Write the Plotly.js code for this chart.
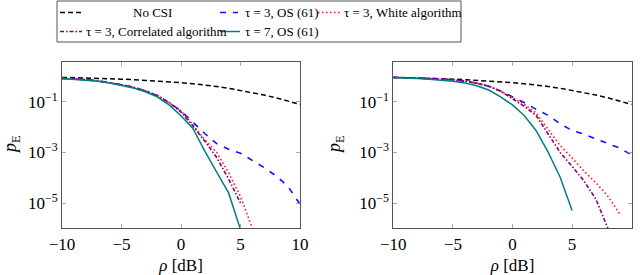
<!DOCTYPE html>
<html>
<head>
<meta charset="utf-8">
<script src="https://cdn.plot.ly/plotly-3.0.1.min.js"></script>
<style>html,body{margin:0;padding:0;background:#fff;}#chart{width:640px;height:275px;}</style>
</head>
<body>
<div id="chart"></div>
<script>
// ---- data ----
var snrDb = [-10,-9,-8,-7,-6,-5,-4,-3,-2,-1,0,1,2,3,4,5,6,7,8,9,10];
var seriesNames = ['No CSI', '\u03c4 = 3, OS (61)', '\u03c4 = 3, White algorithm', '\u03c4 = 3, Correlated algorithm', '\u03c4 = 7, OS (61)'];
var xTitle = '<i>\u03c1</i> [dB]';
var yTitle = '<i>p</i><sub>E</sub>';

var noCsi = [0.933,0.912,0.891,0.861,0.832,0.794,0.759,0.716,0.676,0.631,0.575,0.525,0.468,0.407,0.347,0.288,0.234,0.186,0.145,0.110,0.0794];

// left panel
var leftOs3      = [0.851,0.813,0.759,0.676,0.589,0.479,0.380,0.275,0.178,0.0933,0.0447,0.0158,5.62e-3,2.24e-3,1.35e-3,9.33e-4,4.79e-4,2.51e-4,1.17e-4,4.47e-5,8.91e-6];
var leftWhite3   = [0.851,0.813,0.759,0.676,0.589,0.479,0.380,0.275,0.178,0.0933,0.0447,0.0126,3.16e-3,1.0e-3,1.58e-4,1.78e-5,1.0e-6];
var leftCorr3    = [0.851,0.813,0.759,0.676,0.589,0.479,0.380,0.275,0.178,0.0933,0.0398,0.0112,2.82e-3,6.31e-4,8.91e-5,1.0e-5];
var leftOs7      = [0.851,0.794,0.741,0.661,0.562,0.447,0.355,0.251,0.158,0.0759,0.0282,8.91e-3,1.12e-3,1.66e-4,2.51e-5,8.91e-7];

// right panel
var rightOs3     = [0.933,0.912,0.891,0.851,0.813,0.741,0.661,0.550,0.417,0.269,0.158,0.0933,0.0501,0.0295,0.0135,7.41e-3,5.25e-3,3.39e-3,2.24e-3,1.48e-3,7.94e-4];
var rightWhite3  = [0.933,0.912,0.891,0.851,0.813,0.741,0.661,0.550,0.417,0.269,0.141,0.0794,0.0355,7.94e-3,1.86e-3,6.03e-4,1.82e-4,6.31e-5,1.86e-5,3.72e-6];
var rightCorr3   = [0.933,0.912,0.891,0.851,0.813,0.741,0.661,0.550,0.417,0.269,0.135,0.0661,0.0282,5.01e-3,1.0e-3,2.82e-4,7.41e-5,1.41e-5,1.0e-6];
var rightOs7     = [0.912,0.891,0.851,0.794,0.741,0.661,0.562,0.437,0.295,0.158,0.0759,0.0282,7.08e-3,1.0e-3,1.05e-4,5.01e-6];

var xTickVals = [-10,-5,0,5,10];
var xTickText = ['\u221210','\u22125','0','5','10'];
var yTickVals = [1e-5,1e-3,1e-1];
var yTickText = ['10<sup>\u22125</sup>','10<sup>\u22123</sup>','10<sup>\u22121</sup>'];

// ---- styles ----
var FONT = 'Liberation Serif, DejaVu Serif, serif';
var styles = [
  {color:'#000000', dash:'5px,3px', width:1.5},
  {color:'#1010ff', dash:'6px,7px', width:1.6},
  {color:'#ff2020', dash:'1.6px,2.4px', width:1.6},
  {color:'#800080', dash:'4px,2px,1.5px,2px', width:1.6},
  {color:'#008080', dash:'solid', width:1.5}
];

function tr(y, k, xa, ya) {
  return {x: snrDb.slice(0, y.length), y: y, type:'scatter', mode:'lines',
          name: seriesNames[k], xaxis: xa, yaxis: ya, showlegend:false,
          line:{color:styles[k].color, dash:styles[k].dash, width:styles[k].width}};
}
var leftSets  = [noCsi, leftOs3, leftWhite3, leftCorr3, leftOs7];
var rightSets = [noCsi, rightOs3, rightWhite3, rightCorr3, rightOs7];
var data = [];
leftSets.forEach(function(s,k){ data.push(tr(s,k,'x','y')); });
rightSets.forEach(function(s,k){ data.push(tr(s,k,'x2','y2')); });

var W = 640, H = 275;
var yDom = [(H-228.3)/H, (H-61.7)/H];
function xAx(dom, anchor) {
  return {domain:dom, anchor:anchor, range:[-10,10], tickmode:'array', tickvals:xTickVals, ticktext:xTickText,
    ticks:'inside', ticklen:4, tickcolor:'#aaaaaa', showline:true, linecolor:'#555555', linewidth:1,
    mirror:'ticks', showgrid:false, zeroline:false,
    tickfont:{family:FONT, size:17, color:'#000'},
    title:{text:xTitle, font:{family:FONT, size:17, color:'#000'}}};
}
function yAx(anchor) {
  return {domain:yDom, anchor:anchor, type:'log', range:[-6,0.59], tickmode:'array', tickvals:yTickVals, ticktext:yTickText,
    ticks:'inside', ticklen:4, tickcolor:'#aaaaaa', showline:true, linecolor:'#555555', linewidth:1,
    mirror:'ticks', showgrid:false, zeroline:false,
    tickfont:{family:FONT, size:17, color:'#000'}};
}

// ---- legend (drawn as a box with sample lines and labels) ----
var shapes = [{type:'rect', xref:'paper', yref:'paper', x0:57/W, x1:461/W, y0:1-42/H, y1:1-1/H,
               line:{color:'#555555', width:1}, fillcolor:'rgba(255,255,255,0)'}];
var annotations = [];
var legItems = [
  {k:0, sx:[60,82],  y:12.5, tx:152, anchor:'center'},
  {k:1, sx:[220,238], y:12.5, tx:243, anchor:'left'},
  {k:2, sx:[318,340], y:12.5, tx:342, anchor:'left'},
  {k:3, sx:[60,82],  y:31.5, tx:84,  anchor:'left'},
  {k:4, sx:[220,240], y:31.5, tx:243, anchor:'left'}
];
legItems.forEach(function(it){
  var st = styles[it.k];
  shapes.push({type:'line', xref:'paper', yref:'paper', x0:it.sx[0]/W, x1:it.sx[1]/W, y0:1-it.y/H, y1:1-it.y/H,
               line:{color:st.color, dash:st.dash, width:st.width}});
  annotations.push({xref:'paper', yref:'paper', x:it.tx/W, y:1-it.y/H, xanchor:it.anchor, yanchor:'middle',
               text:seriesNames[it.k], showarrow:false, font:{family:FONT, size:13, color:'#000'}});
});
// y-axis titles (placed like the reference)
[11, 335].forEach(function(px){
  annotations.push({xref:'paper', yref:'paper', x:px/W, y:1-145/H, xanchor:'center', yanchor:'middle',
    text:yTitle, textangle:-90, showarrow:false, font:{family:FONT, size:18, color:'#000'}});
});

var layout = {
  width:W, height:H, margin:{l:0,r:0,t:0,b:0},
  paper_bgcolor:'#ffffff', plot_bgcolor:'#ffffff', showlegend:false,
  font:{family:FONT, size:17, color:'#000000'},
  xaxis: xAx([62/W, 300/W], 'y'),
  yaxis: yAx('x'),
  xaxis2: xAx([393.3/W, 631.7/W], 'y2'),
  yaxis2: yAx('x2'),
  shapes: shapes,
  annotations: annotations
};

Plotly.newPlot('chart', data, layout, {displayModeBar:false, staticPlot:true});
</script>
</body>
</html>
